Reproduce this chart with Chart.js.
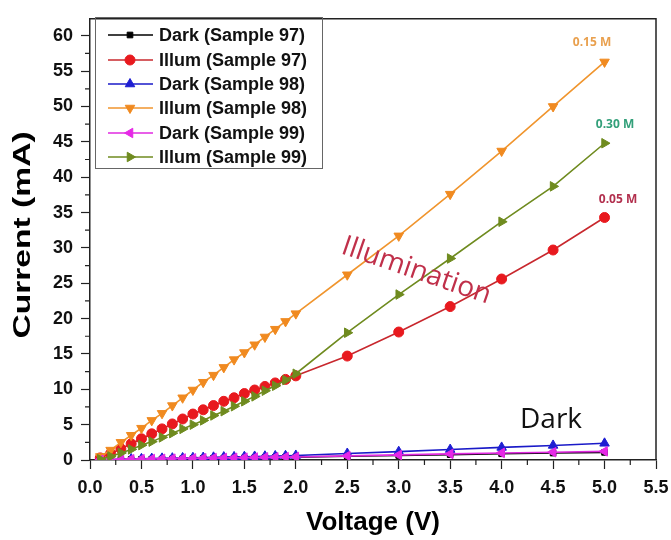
<!DOCTYPE html>
<html lang="en">
<head>
<meta charset="UTF-8">
<title>I-V curves</title>
<script src="https://cdn.jsdelivr.net/npm/chart.js"></script>
<style>
  html, body { margin: 0; padding: 0; background: #fff; }
  #wrap { width: 671px; height: 540px; }
</style>
</head>
<body>
<div id="wrap"><canvas id="ivChart" width="671" height="540"></canvas></div>
<script>
// 電圧 (V)
var volts = [0.1, 0.2, 0.3, 0.4, 0.5, 0.6, 0.7, 0.8, 0.9, 1.0,
             1.1, 1.2, 1.3, 1.4, 1.5, 1.6, 1.7, 1.8, 1.9, 2.0,
             2.5, 3.0, 3.5, 4.0, 4.5, 5.0];
// 電流 (mA)
var dark97  = [0.02, 0.04, 0.06, 0.08, 0.10, 0.12, 0.14, 0.16, 0.18, 0.20, 0.22, 0.24, 0.26, 0.28, 0.30, 0.32, 0.34, 0.36, 0.38, 0.40, 0.52, 0.64, 0.76, 0.88, 0.98, 1.08];
var illum97 = [0.3, 0.9, 1.6, 2.3, 3.0, 3.7, 4.4, 5.1, 5.8, 6.5, 7.1, 7.7, 8.3, 8.8, 9.4, 9.9, 10.4, 10.9, 11.4, 11.9, 14.7, 18.1, 21.7, 25.6, 29.7, 34.3];
var dark98  = [0.04, 0.08, 0.11, 0.14, 0.17, 0.20, 0.23, 0.26, 0.29, 0.32, 0.35, 0.38, 0.41, 0.44, 0.47, 0.50, 0.53, 0.57, 0.60, 0.64, 0.92, 1.18, 1.48, 1.78, 2.06, 2.36];
var illum98 = [0.5, 1.4, 2.5, 3.5, 4.5, 5.6, 6.6, 7.7, 8.8, 9.9, 11.0, 12.0, 13.1, 14.2, 15.2, 16.3, 17.4, 18.5, 19.6, 20.7, 26.2, 31.7, 37.6, 43.7, 50.0, 56.3];
var dark99  = [0.03, 0.05, 0.08, 0.10, 0.12, 0.14, 0.17, 0.19, 0.21, 0.23, 0.25, 0.27, 0.29, 0.31, 0.33, 0.35, 0.37, 0.39, 0.41, 0.43, 0.58, 0.72, 0.86, 1.00, 1.10, 1.22];
var illum99 = [0.1, 0.5, 1.0, 1.5, 2.1, 2.6, 3.2, 3.8, 4.4, 5.0, 5.6, 6.3, 6.9, 7.6, 8.3, 9.0, 9.8, 10.5, 11.3, 12.2, 18.0, 23.4, 28.5, 33.7, 38.7, 44.8];

var seriesNames = ['Dark (Sample 97)', 'Illum (Sample 97)', 'Dark (Sample 98)',
                   'Illum (Sample 98)', 'Dark (Sample 99)', 'Illum (Sample 99)'];
var seriesData = [dark97, illum97, dark98, illum98, dark99, illum99];

// 見た目
var lineColors   = ['#000000', '#c8282e', '#1a1ac8', '#f0952e', '#e02ae0', '#6f8b1f'];
var markerColors = ['#000000', '#e8191e', '#1e1ed2', '#f08a20', '#e628e6', '#6f8b1f'];
var markerStyles = ['rect', 'circle', 'triangle', 'triangle', 'triangle', 'triangle'];
var markerRot    = [0, 0, 0, 180, -90, 90];
var markerRad    = [4, 5, 5.5, 5.5, 5.5, 5.5];

var datasets = seriesData.map(function (arr, i) {
  return {
    label: seriesNames[i],
    data: volts.map(function (v, k) { return { x: v, y: arr[k] }; }),
    borderColor: lineColors[i],
    backgroundColor: markerColors[i],
    pointBorderColor: markerColors[i],
    pointBackgroundColor: markerColors[i],
    borderWidth: 1.6,
    pointStyle: markerStyles[i],
    rotation: markerRot[i],
    pointRadius: markerRad[i],
    pointBorderWidth: 1,
    order: 5 - i
  };
});

var FONT = 'Arial, "Liberation Sans", sans-serif';

// 枠・副目盛り・凡例・注記を描くプラグイン
var decor = {
  id: 'decor',
  afterDraw: function (chart) {
    var ctx = chart.ctx, a = chart.chartArea;
    var xs = chart.scales.x, ys = chart.scales.y;
    ctx.save();
    ctx.strokeStyle = '#222';
    ctx.lineWidth = 1.5;
    ctx.beginPath();
    ctx.moveTo(a.left, a.top); ctx.lineTo(a.right, a.top); ctx.lineTo(a.right, a.bottom);
    ctx.stroke();
    // 副目盛り
    ctx.lineWidth = 1.2;
    ctx.beginPath();
    for (var v = 0.25; v < 5.5; v += 0.5) {
      var px = xs.getPixelForValue(v);
      ctx.moveTo(px, a.bottom); ctx.lineTo(px, a.bottom + 5);
    }
    for (var w = 2.5; w < 62; w += 5) {
      var py = ys.getPixelForValue(w);
      ctx.moveTo(a.left, py); ctx.lineTo(a.left - 5, py);
    }
    ctx.stroke();

    // 凡例
    ctx.lineWidth = 1;
    ctx.strokeStyle = '#666';
    ctx.strokeRect(95.5, 17.5, 227, 151);
    var rowY = [35, 60, 84, 108, 133, 157];
    ctx.font = 'bold 18px ' + FONT;
    ctx.textBaseline = 'middle';
    ctx.textAlign = 'left';
    chart.data.datasets.forEach(function (ds, i) {
      var y = rowY[i];
      ctx.strokeStyle = ds.borderColor;
      ctx.lineWidth = 1.6;
      ctx.beginPath(); ctx.moveTo(108, y); ctx.lineTo(153, y); ctx.stroke();
      ctx.fillStyle = ds.pointBackgroundColor;
      ctx.strokeStyle = ds.pointBorderColor;
      ctx.lineWidth = 1;
      Chart.helpers.drawPoint(ctx, {
        pointStyle: ds.pointStyle, rotation: ds.rotation,
        radius: ds.pointRadius, borderWidth: 1
      }, 130, y);
      ctx.fillStyle = '#111';
      ctx.fillText(ds.label, 159, y + 1);
    });

    // 注記
    ctx.font = 'bold 12px "Open Sans", sans-serif';
    ctx.textAlign = 'center';
    ctx.fillStyle = '#e9a04e'; ctx.fillText('0.15 M', 592, 43);
    ctx.fillStyle = '#33a07a'; ctx.fillText('0.30 M', 615, 125);
    ctx.fillStyle = '#b2304e'; ctx.fillText('0.05 M', 618, 200);

    ctx.save();
    ctx.translate(340, 253);
    ctx.rotate(19 * Math.PI / 180);
    ctx.font = '28px "Open Sans", sans-serif';
    ctx.textAlign = 'left';
    ctx.textBaseline = 'alphabetic';
    ctx.fillStyle = '#c0304a';
    ctx.fillText('Illumination', 0, 0);
    ctx.restore();

    ctx.font = '28px "Open Sans", sans-serif';
    ctx.textAlign = 'left';
    ctx.textBaseline = 'alphabetic';
    ctx.fillStyle = '#111';
    ctx.fillText('Dark', 520, 428);

    // 軸タイトル
    ctx.fillStyle = '#000';
    ctx.textAlign = 'center';
    ctx.textBaseline = 'middle';
    ctx.font = 'bold 26px ' + FONT;
    ctx.fillText('Voltage (V)', 373, 523);
    ctx.save();
    ctx.translate(23, 235);
    ctx.rotate(-Math.PI / 2);
    ctx.scale(1.4, 1);
    ctx.font = 'bold 24px ' + FONT;
    ctx.fillText('Current (mA)', 0, 0);
    ctx.restore();
    ctx.restore();
  }
};

new Chart(document.getElementById('ivChart'), {
  type: 'line',
  data: { datasets: datasets },
  options: {
    responsive: false,
    animation: false,
    layout: { padding: { left: 0, right: 15, top: 15, bottom: 0 } },
    plugins: { legend: { display: false }, tooltip: { enabled: false } },
    scales: {
      x: {
        type: 'linear', min: 0, max: 5.5,
        afterFit: function (s) { s.height = 80; s.paddingRight = 0; },
        border: { color: '#222', width: 1.5 },
        grid: { drawOnChartArea: false, tickLength: 9, color: '#222', tickWidth: 1.2 },
        ticks: {
          stepSize: 0.5, padding: 8, color: '#111',
          font: { family: FONT, size: 18, weight: 'bold' },
          callback: function (v) { return v.toFixed(1); },
          maxRotation: 0
        }
      },
      y: {
        type: 'linear', min: 0, max: 62.4,
        afterFit: function (s) { s.width = 90; },
        border: { color: '#222', width: 1.5 },
        grid: { drawOnChartArea: false, tickLength: 9, color: '#222', tickWidth: 1.2 },
        ticks: {
          stepSize: 5, padding: 8, includeBounds: false, color: '#111',
          font: { family: FONT, size: 18, weight: 'bold' }
        }
      }
    }
  },
  plugins: [decor]
});
</script>
</body>
</html>
